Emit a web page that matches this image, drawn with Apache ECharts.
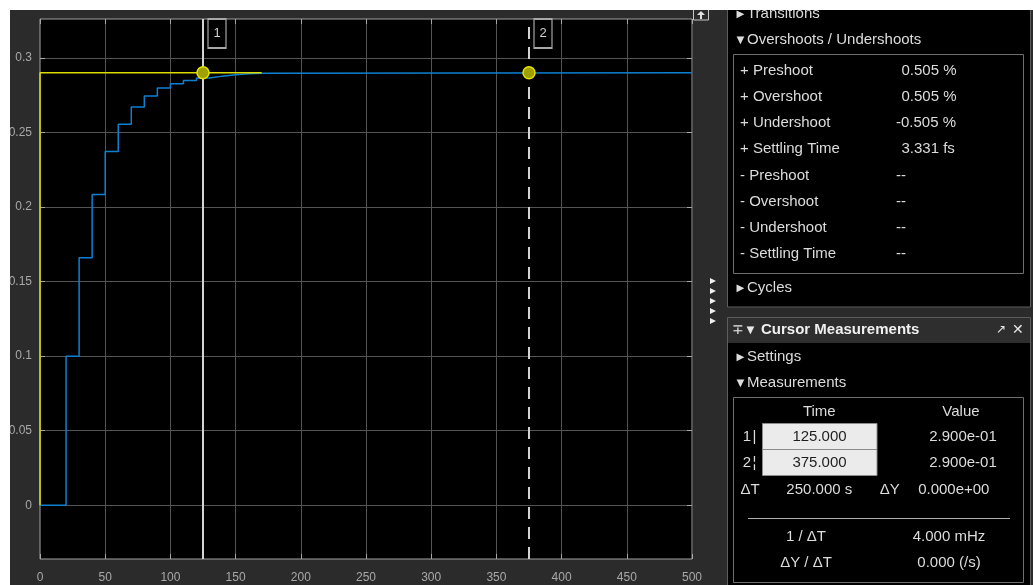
<!DOCTYPE html>
<html>
<head>
<meta charset="utf-8">
<script src="https://cdn.jsdelivr.net/npm/echarts@6/dist/echarts.min.js"></script>
<style>
html,body{margin:0;padding:0;background:#fff;width:1033px;height:585px;overflow:hidden;}
#c{position:absolute;left:10px;top:10px;width:1023px;height:575px;}
</style>
</head>
<body>
<div id="c"></div>
<script>
// ---- data ----
var responseT = [0, 20, 30, 40, 50, 60, 70, 80, 90, 100, 110, 120, 130, 140, 150, 160, 170, 500];
var responseY = [0, 0.1, 0.166, 0.2084, 0.2371, 0.2554, 0.267, 0.2743, 0.2797, 0.2826, 0.2848, 0.2864, 0.2877, 0.2887, 0.2893, 0.2897, 0.29, 0.29];
var referenceT = [0, 0, 170];
var referenceY = [0, 0.29, 0.29];
var cursorTimes = [125, 375];
var cursorValues = [0.29, 0.29];
var cursorNames = ['1', '2'];
var xTicks = [0, 50, 100, 150, 200, 250, 300, 350, 400, 450, 500];
var yTicks = [0, 0.05, 0.1, 0.15, 0.2, 0.25, 0.3];
var yTickLabels = ['0', '0.05', '0.1', '0.15', '0.2', '0.25', '0.3'];
var overshootLabels = ['+ Preshoot', '+ Overshoot', '+ Undershoot', '+ Settling Time', '- Preshoot', '- Overshoot', '- Undershoot', '- Settling Time'];
var overshootValues = ['0.505 %', '0.505 %', '-0.505 %', '3.331 fs', '--', '--', '--', '--'];
var cursorTimeText = ['125.000', '375.000'];
var cursorValueText = ['2.900e-01', '2.900e-01'];
var deltaT = '250.000 s', deltaY = '0.000e+00', invDeltaT = '4.000 mHz', slope = '0.000 (/s)';

// ---- build ----
var chart = echarts.init(document.getElementById('c'), null, {renderer: 'canvas'});
function zip(a, b) { return a.map(function (v, i) { return [v, b[i]]; }); }
var FONT = '"Liberation Sans", Arial, sans-serif';
var txtCol = '#dcdcdc';
var gridCol = '#545454';
var axCol = '#a8a8a8';
var yMin = -0.036, yMax = 0.326;

var g = [];
function T(text, x, y, opt) {
  opt = opt || {};
  g.push({type: 'text', z: 100, style: {text: text, x: x, y: y, fill: opt.fill || txtCol,
    font: (opt.bold ? 'bold ' : '') + (opt.size || 15) + 'px ' + FONT,
    align: opt.align || 'left', verticalAlign: 'middle'}});
}
function R(x, y, w, h, fill, stroke, lw) {
  g.push({type: 'rect', z: 90, shape: {x: x, y: y, width: w, height: h},
    style: {fill: fill || 'none', stroke: stroke || null, lineWidth: lw || 1}});
}
// panel 1
R(717.5, -5, 303, 302, '#000', '#5c5c5c');
R(723.5, 44.5, 290, 219, null, '#6e6e6e');
T('\u25BA', 724, 4, {size: 13}); T('Transitions', 737, 4);
T('\u25BC', 724, 30, {size: 13}); T('Overshoots / Undershoots', 737, 30);
overshootLabels.forEach(function (l, i) {
  var y = 61 + 26.1 * i;
  T(l, 730, y);
  var v = overshootValues[i];
  T(v, v.charAt(0) === '-' ? 886 : 891.5, y);
});
T('\u25BA', 724, 278, {size: 13}); T('Cycles', 737, 278);
// panel 2
R(717.5, 307.5, 303, 275, '#000', '#5c5c5c');
R(718, 308, 302, 25, '#2e2e2e');
T('\u2213', 722, 320, {size: 14, fill: '#e8e8e8'});
T('\u25BC', 734, 320, {size: 13, fill: '#e8e8e8'});
T('Cursor Measurements', 751, 320, {bold: true, fill: '#f0f0f0'});
T('\u2197', 991, 320, {size: 12, align: 'center', fill: '#e8e8e8'});
T('\u2715', 1008, 320, {size: 14, align: 'center', fill: '#e8e8e8'});
T('\u25BA', 724, 347, {size: 13}); T('Settings', 737, 347);
T('\u25BC', 724, 373, {size: 13}); T('Measurements', 737, 373);
R(723.5, 387.5, 290, 185, null, '#6e6e6e');
T('Time', 809.3, 402, {align: 'center'});
T('Value', 951, 402, {align: 'center'});
var cursorMarks = ['|', '\u00A6'];
cursorTimeText.forEach(function (t, i) {
  var y = 426.7 + 26 * i;
  T(cursorNames[i], 737, y, {align: 'center'});
  T(cursorMarks[i], 744.5, y, {align: 'center'});
  R(752.5, 413.5 + 26 * i, 114.5, 26, '#ebebeb', '#8c8c8c');
  T(t, 809.5, y, {align: 'center', fill: '#1e1e1e'});
  T(cursorValueText[i], 953, y, {align: 'center'});
});
T('\u0394T', 740, 480, {align: 'center'});
T(deltaT, 809.3, 480, {align: 'center'});
T('\u0394Y', 879.7, 480, {align: 'center'});
T(deltaY, 943.8, 480, {align: 'center'});
g.push({type: 'line', z: 95, shape: {x1: 738, y1: 508.5, x2: 1000, y2: 508.5}, style: {stroke: '#b0b0b0', lineWidth: 1}});
T('1 / \u0394T', 796, 526.7, {align: 'center'});
T(invDeltaT, 939, 526.7, {align: 'center'});
T('\u0394Y / \u0394T', 796, 552.7, {align: 'center'});
T(slope, 939, 552.7, {align: 'center'});
// strip icons
R(683.5, -2, 15, 12, '#2b2b2b', '#c8c8c8');
g.push({type: 'polygon', z: 95, shape: {points: [[687, 5], [691, 1], [695, 5]]}, style: {fill: '#e0e0e0'}});
g.push({type: 'rect', z: 95, shape: {x: 690, y: 4, width: 2, height: 5}, style: {fill: '#e0e0e0'}});
[271, 281, 291, 301, 311].forEach(function (y) {
  g.push({type: 'polygon', z: 95, shape: {points: [[700, y - 3], [706, y], [700, y + 3]]}, style: {fill: '#f0f0f0'}});
});

var option = {
  backgroundColor: '#2b2b2b',
  animation: false,
  grid: {left: 30, top: 9, width: 652, height: 540, show: true, backgroundColor: '#000', borderColor: '#a0a0a0', borderWidth: 1,
    containLabel: false, outerBoundsMode: 'none'},
  xAxis: [{
    type: 'value', min: 0, max: 500, interval: 50,
    axisLine: {show: false, onZero: false},
    axisTick: {inside: true, length: 5, lineStyle: {color: axCol}},
    axisLabel: {color: axCol, fontSize: 12, fontFamily: FONT, margin: 13},
    splitLine: {lineStyle: {color: gridCol, width: 1}}
  }, {
    type: 'value', min: 0, max: 500, interval: 50, position: 'top',
    axisLine: {show: false, onZero: false}, axisLabel: {show: false}, splitLine: {show: false},
    axisTick: {inside: true, length: 5, lineStyle: {color: axCol}}
  }],
  yAxis: [{
    type: 'value', min: yMin, max: yMax,
    axisLine: {show: false, onZero: false},
    axisTick: {inside: true, length: 5, customValues: yTicks, lineStyle: {color: axCol}},
    axisLabel: {color: axCol, fontSize: 12, fontFamily: FONT, margin: 8, customValues: yTicks,
      formatter: function (v) { var i = yTicks.indexOf(v); return i >= 0 ? yTickLabels[i] : ''; }},
    splitLine: {lineStyle: {color: gridCol, width: 1}}
  }, {
    type: 'value', min: yMin, max: yMax, position: 'right',
    axisLine: {show: false, onZero: false}, axisLabel: {show: false, customValues: yTicks}, splitLine: {show: false},
    axisTick: {inside: true, length: 5, customValues: yTicks, lineStyle: {color: axCol}}
  }],
  graphic: g,
  series: [{
    type: 'line', name: 'response', step: 'end', data: zip(responseT, responseY),
    symbol: 'none', z: 3, lineStyle: {color: '#0e80d2', width: 1.5},
    markLine: {
      silent: true, symbol: 'none', label: {show: false}, z: 2,
      data: cursorTimes.map(function (t, i) {
        return {xAxis: t, lineStyle: {color: '#d4d4d4', width: 2, type: i === 0 ? 'solid' : [12, 8]}};
      })
    },
    markPoint: {
      silent: true, z: 6,
      data: cursorTimes.map(function (t, i) {
        return {coord: [t, yMax], symbol: 'rect', symbolSize: [18, 29], symbolOffset: [14, 14.5],
          itemStyle: {color: '#000', borderColor: '#a8a8a8', borderWidth: 1.5},
          label: {show: true, position: 'inside', formatter: cursorNames[i], color: '#d0d0d0', fontSize: 13, fontFamily: FONT}};
      })
    }
  }, {
    type: 'line', name: 'reference', data: zip(referenceT, referenceY),
    symbol: 'none', z: 4, lineStyle: {color: '#dcdc00', width: 1.5}
  }, {
    type: 'scatter', name: 'cursors', data: zip(cursorTimes, cursorValues), z: 7,
    symbolSize: 12, itemStyle: {color: '#a0a000', borderColor: '#e4e400', borderWidth: 1.5, opacity: 1}
  }]
};
chart.setOption(option);
</script>
</body>
</html>
